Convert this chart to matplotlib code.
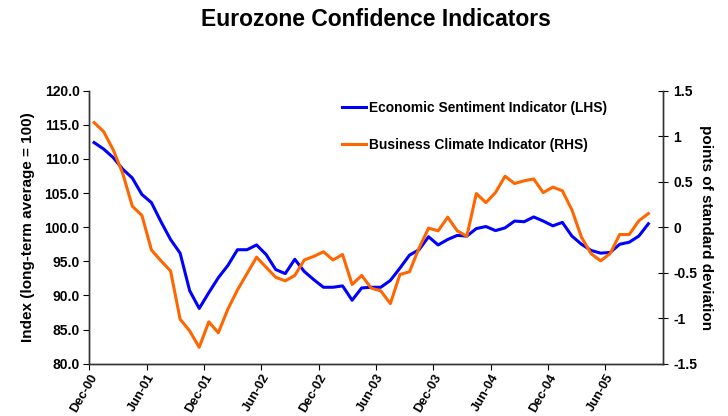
import matplotlib
matplotlib.use("Agg")
import matplotlib.pyplot as plt
import numpy as np

plt.rcParams['font.family'] = ['Liberation Sans', 'DejaVu Sans']
plt.rcParams['font.weight'] = 'bold'

# Monthly readings, Jan-01 .. Nov-05
esi = [112.4, 111.45, 110.2, 108.5, 107.2, 104.8, 103.6, 100.8, 98.2, 96.2,
       90.7, 88.1, 90.4, 92.6, 94.4, 96.7, 96.7, 97.4, 96.0, 93.8,
       93.2, 95.3, 93.5, 92.3, 91.2, 91.2, 91.4, 89.3, 91.1, 91.2,
       91.2, 92.2, 94.0, 95.9, 96.7, 98.6, 97.4, 98.2, 98.8, 98.7,
       99.8, 100.1, 99.5, 99.9, 100.9, 100.8, 101.5, 100.9, 100.2, 100.7,
       98.7, 97.5, 96.6, 96.2, 96.3, 97.5, 97.8, 98.7, 100.5]
bci = [1.15, 1.05, 0.85, 0.59, 0.23, 0.13, -0.25, -0.37, -0.48, -1.01,
       -1.14, -1.32, -1.04, -1.16, -0.90, -0.69, -0.51, -0.33, -0.44, -0.55,
       -0.59, -0.53, -0.36, -0.32, -0.27, -0.36, -0.30, -0.63, -0.53, -0.67,
       -0.70, -0.84, -0.52, -0.49, -0.23, -0.01, -0.04, 0.11, -0.04, -0.10,
       0.37, 0.27, 0.38, 0.56, 0.48, 0.51, 0.53, 0.38, 0.44, 0.40,
       0.19, -0.11, -0.29, -0.37, -0.29, -0.08, -0.08, 0.07, 0.15]
tick_labels = ["Dec-00", "Jun-01", "Dec-01", "Jun-02", "Dec-02",
               "Jun-03", "Dec-03", "Jun-04", "Dec-04", "Jun-05"]

x = np.arange(len(esi)) + 0.5

fig = plt.figure(figsize=(7.28, 4.16), dpi=100)
ax = fig.add_axes([0.1227, 0.1257, 0.7876, 0.6563])
ax2 = ax.twinx()

l1, = ax.plot(x, esi, color="#0000FF", lw=2.2, label="Economic Sentiment Indicator (LHS)")
l2, = ax2.plot(x, bci, color="#FF6600", lw=2.2, label="Business Climate Indicator (RHS)")

ax.set_xlim(0, 60)
ax.set_ylim(80, 120)
ax2.set_ylim(-1.5, 1.5)

ax.set_yticks(np.arange(80, 121, 5))
ax.set_yticklabels([f"{v:.1f}" for v in np.arange(80, 121, 5)])
ax2.set_yticks([-1.5, -1, -0.5, 0, 0.5, 1, 1.5])
ax2.set_yticklabels(["-1.5", "-1", "-0.5", "0", "0.5", "1", "1.5"])
ax.set_xticks(np.arange(0, 60, 6))
ax.set_xticklabels(tick_labels, rotation=60, ha="right", rotation_mode="anchor")

for a in (ax, ax2):
    a.spines["top"].set_visible(False)
    for s in a.spines.values():
        s.set_color("#333333")
        s.set_linewidth(1.0)
ax.tick_params(axis="y", direction="out", length=4, labelsize=10, pad=3)
ax.tick_params(axis="x", direction="out", length=4, labelsize=9.3, pad=2)
ax2.tick_params(axis="y", direction="inout", length=7, labelsize=10, pad=4)

ax.set_ylabel("Index (long-term average = 100)", fontsize=11, fontweight="bold")
ax.yaxis.set_label_coords(-0.094, 0.5)
ax2.set_ylabel("points of standard deviation", fontsize=11, fontweight="bold", rotation=270)
ax2.yaxis.set_label_coords(1.088, 0.5)

ax.legend(handles=[l1, l2], loc="upper left", bbox_to_anchor=(0.44, 0.963),
          frameon=False, fontsize=9.9, handlelength=1.8, handletextpad=0.22,
          labelspacing=1.7, borderaxespad=0, borderpad=0)

fig.text(0.517, 0.954, "Eurozone Confidence Indicators", ha="center", va="center",
         fontsize=16.5, fontweight="bold")

fig.savefig("out.png", dpi=100)
